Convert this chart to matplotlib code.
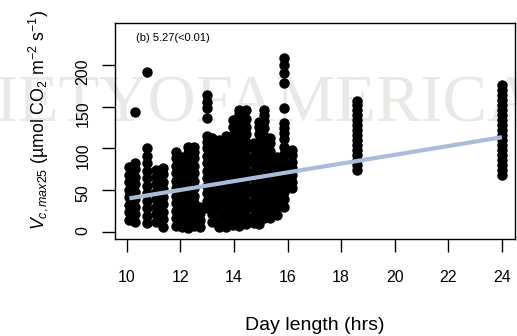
import numpy as np
import matplotlib
matplotlib.use('Agg')
import matplotlib.pyplot as plt

plt.rcParams['font.family'] = ['Liberation Sans', 'DejaVu Sans']
plt.rcParams['mathtext.fontset'] = 'custom'
plt.rcParams['mathtext.rm'] = 'Liberation Sans'
plt.rcParams['mathtext.it'] = 'Liberation Sans:italic'

# day length (hrs) of each column of observations
day_length = [10.1, 10.3, 10.75, 11.1, 11.35, 11.85, 12.05, 12.3, 12.5, 12.75,
              13.0, 13.2, 13.45, 13.7, 13.95, 14.2, 14.45, 14.75, 14.95,
              15.12, 15.35, 15.6, 15.87, 16.15, 18.58, 24.0]

# Vcmax25 values observed at each day length
vcmax25 = [
    [14, 23, 32, 41, 50, 59, 68, 77],
    [12, 21, 30, 39, 48, 57, 66, 75, 82, 143],
    [10, 19, 28, 37, 46, 55, 64, 73, 82, 91, 100, 191],
    [12, 21, 30, 39, 48, 57, 66, 74],
    [6, 15, 24, 33, 42, 51, 60, 69, 76],
    [7, 16, 25, 34, 43, 52, 61, 70, 79, 88, 96],
    [5, 14, 23, 32, 41, 50, 59, 68, 77, 86, 90],
    [4, 13, 22, 31, 40, 49, 58, 67, 76, 85, 94, 101],
    [7, 16, 25, 34, 43, 52, 61, 70, 79, 88, 96, 102],
    [6, 14, 22, 30],
    [28, 37, 46, 55, 64, 73, 82, 91, 100, 108, 115, 136, 148, 156, 164],
    [12, 21, 30, 39, 48, 57, 66, 75, 84, 93, 102, 112],
    [6, 15, 24, 33, 42, 51, 60, 69, 78, 87, 96, 105, 110],
    [6, 15, 24, 33, 42, 51, 60, 69, 78, 87, 96, 105, 115],
    [8, 17, 26, 35, 44, 53, 62, 71, 80, 89, 98, 107, 116, 125, 134],
    [7, 16, 25, 34, 43, 52, 61, 70, 79, 88, 97, 106, 115, 124, 133, 141, 146],
    [9, 18, 27, 36, 45, 54, 63, 72, 81, 90, 99, 108, 117, 126, 135, 146],
    [10, 19, 28, 37, 46, 55, 64, 73, 82, 91, 100, 106],
    [9, 18, 27, 36, 45, 54, 63, 72, 81, 90, 99, 108, 117, 126, 132],
    [16, 25, 34, 43, 52, 61, 70, 79, 88, 97, 106, 115, 124, 133, 140, 146],
    [16, 25, 34, 43, 52, 61, 70, 79, 88, 97, 106, 112],
    [20, 29, 38, 47, 56, 65, 74, 83, 90],
    [30, 39, 48, 57, 66, 75, 84, 93, 102, 111, 118, 124, 130, 148, 178, 190,
     200, 208],
    [52, 60, 68, 76, 84, 92, 98],
    [74, 80, 86, 92, 98, 104, 110, 116, 122, 128, 134, 140, 146, 152, 157],
    [68, 74, 80, 86, 92, 98, 104, 110, 116, 122, 128, 134, 140, 146, 152, 158,
     164, 170, 176],
]

slope = 5.27
intercept = -13.2
x_ticks = [10, 12, 14, 16, 18, 20, 22, 24]
y_ticks = [0, 50, 100, 150, 200]

xs = []
ys = []
for d, vals in zip(day_length, vcmax25):
    xs.extend([d] * len(vals))
    ys.extend(vals)

fig = plt.figure(figsize=(5.17, 3.36), dpi=100)
ax = fig.add_axes([114.7/517, 97/336, 400.3/517, 215.7/336])
ax.patch.set_alpha(0)

# journal watermark behind the plot
fig.text(-0.258, 0.638, 'SOCIETYOFAMERICA', family='Liberation Serif',
         fontsize=48, color='#ebe8e5', ha='left', va='baseline', zorder=-5)

ax.plot(xs, ys, 'o', color='black', markersize=7.5, markeredgewidth=0,
        zorder=2)
xfit = np.array([min(xs), max(xs)])
ax.plot(xfit, intercept + slope * xfit, color='#a9bcd9', lw=3,
        solid_capstyle='butt', zorder=3)

ax.set_xlim(9.55, 24.49)
ax.set_ylim(-8.8, 250)
ax.set_xticks(x_ticks)
ax.set_yticks(y_ticks)
ax.tick_params(axis='both', length=9.4, width=1, labelsize=11.5)
ax.tick_params(axis='x', pad=13)
ax.tick_params(axis='y', pad=8, labelrotation=90)
for s in ax.spines.values():
    s.set_linewidth(1)

ax.text(0.053, 0.932, '(b) 5.27(<0.01)', transform=ax.transAxes,
        fontsize=8, va='center', ha='left')

fig.text((114.7 + 515) / 2 / 517, 1 - 325/336, 'Day length (hrs)',
         fontsize=14, ha='center', va='center')
fig.text(38/517, 1 - 120/336,
         r'$V_{c,max25}$ (µmol CO$_2$ m$^{-2}$ s$^{-1}$)',
         fontsize=12.8, rotation=90, ha='center', va='center')

fig.savefig('out.png', dpi=100)
